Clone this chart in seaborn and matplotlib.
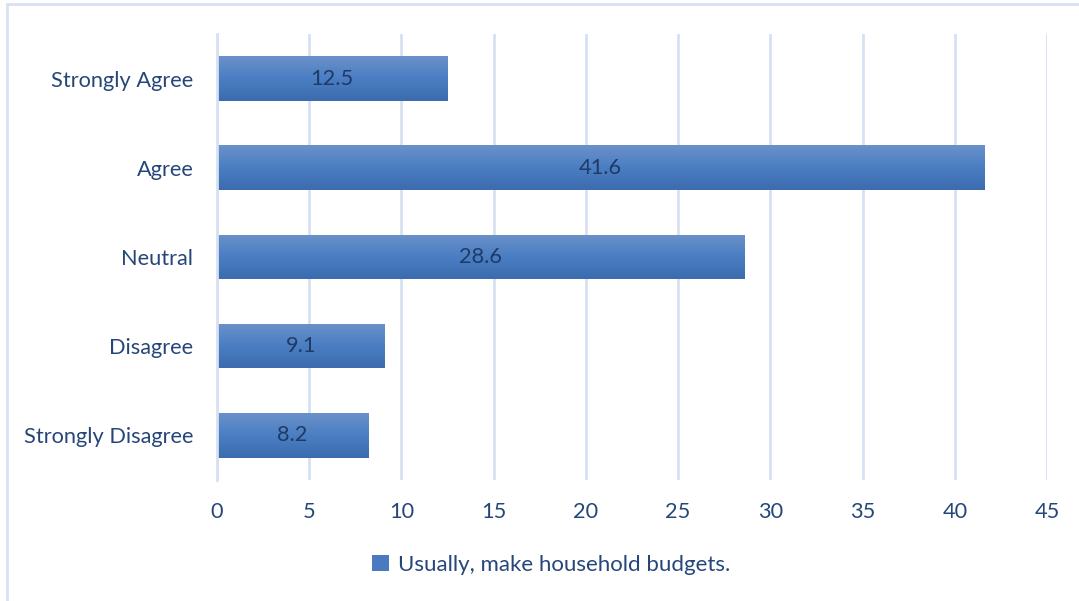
import numpy as np
import pandas as pd
import matplotlib
matplotlib.use("Agg")
import matplotlib.pyplot as plt
from matplotlib.colors import LinearSegmentedColormap
from matplotlib.patches import Rectangle, Patch
import seaborn as sns

# Survey responses: "Usually, make household budgets."
categories = ["Strongly Agree", "Agree", "Neutral", "Disagree", "Strongly Disagree"]
percentages = [12.5, 41.6, 28.6, 9.1, 8.2]
series_name = "Usually, make household budgets."
x_ticks = [0, 5, 10, 15, 20, 25, 30, 35, 40, 45]

df = pd.DataFrame({"category": categories, "value": percentages})

sns.set_style("white")
plt.rcParams["font.family"] = ["Lato", "DejaVu Sans"]

TEXT = "#26467A"
LABEL = "#1F3A66"
GRID = "#D6E1F2"
BAR_MID = "#4A7DC2"
FS = 15.7

fig = plt.figure(figsize=(10.79, 6.01), dpi=100)
ax = fig.add_axes([217 / 1079, 1 - 480 / 601, (1047 - 217) / 1079, (480 - 34) / 601])

sns.barplot(data=df, y="category", x="value", orient="h", order=categories,
            color=BAR_MID, width=0.5, ax=ax, saturation=1, edgecolor="none")

# vertical gradient fill on each bar (lighter on top, darker at the bottom)
cmap = LinearSegmentedColormap.from_list("barfill", ["#6B91C9", "#4A7EC3", "#3C6BAE"])
grad = np.linspace(0, 1, 256).reshape(-1, 1)
for p in list(ax.patches):
    bb = p.get_bbox()
    im = ax.imshow(grad, cmap=cmap, aspect="auto", origin="upper",
                   extent=(bb.x0, bb.x1, bb.y1, bb.y0), zorder=p.get_zorder() + 0.1)
    im.set_clip_path(p)

# value labels centred in the bars
for i, v in enumerate(percentages):
    ax.text(v / 2, i, f"{v}", ha="center", va="center", fontsize=FS, color=LABEL, zorder=5)

ax.set_xlim(0, 45)
ax.set_ylim(len(categories) - 0.5, -0.5)
ax.set_xticks(x_ticks)
ax.set_xlabel("")
ax.set_ylabel("")

ax.grid(axis="x", color=GRID, linewidth=2)
ax.grid(axis="y", visible=False)
ax.set_axisbelow(True)

for side in ["top", "right", "bottom"]:
    ax.spines[side].set_visible(False)
ax.spines["left"].set_color(GRID)
ax.spines["left"].set_linewidth(2)

ax.tick_params(axis="x", length=0, pad=16, labelsize=FS, labelcolor=TEXT)
ax.tick_params(axis="y", which="major", length=0, pad=17, labelsize=FS, labelcolor=TEXT)
ax.set_yticks(np.arange(-0.5, len(categories)), minor=True)
ax.tick_params(axis="y", which="minor", length=8, width=2, color=GRID, direction="out")

# legend at the bottom centre
handle = Patch(facecolor="#4A7AC0", edgecolor="none")
fig.legend([handle], [series_name], loc="center", bbox_to_anchor=(551 / 1079, 1 - 565 / 601),
           frameon=False, fontsize=16, labelcolor=TEXT, handlelength=0.75, handleheight=0.75,
           handletextpad=0.4)

# outer chart border
fig.patches.append(Rectangle((7 / 1079, -0.1), 1.2, 1 - 4 / 601 + 0.1, transform=fig.transFigure,
                             fill=False, edgecolor=GRID, linewidth=2))

fig.savefig("out.png", dpi=100, facecolor="white")
